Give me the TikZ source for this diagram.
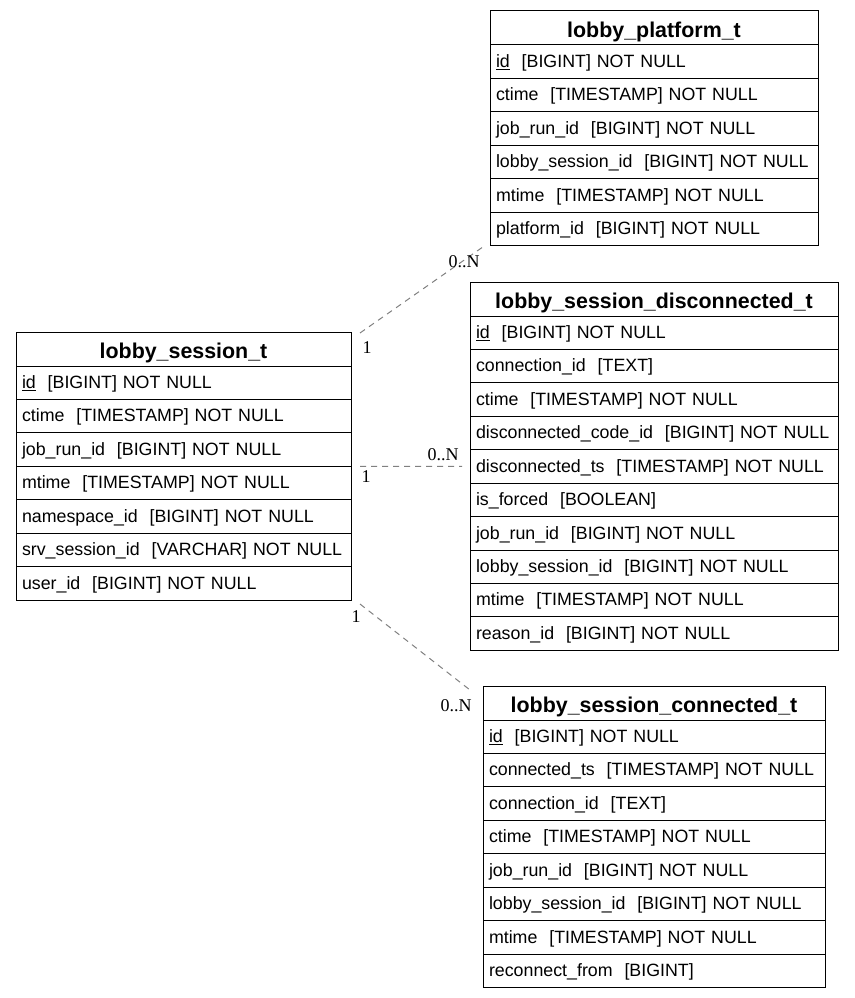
\documentclass[tikz,border=0pt]{standalone}
\usepackage{fontspec}
\setmainfont{Liberation Sans}
\newfontfamily\lblfamily{Liberation Serif}
\newcommand{\hdrfont}{\fontsize{21.4}{24}\selectfont\bfseries}
\newcommand{\rowfont}{\fontsize{17.8}{20}\selectfont}
\newcommand{\lblfont}{\lblfamily\fontsize{18}{20}\selectfont}
\newcommand{\twosp}{\ \ }
\begin{document}
\begin{tikzpicture}[x=1pt,y=-1pt,
  hdr/.style={draw, line width=1pt, outer sep=0pt, anchor=north west, minimum height=34pt, inner sep=0pt, text height=19pt, text depth=0pt, font=\hdrfont, align=center},
  row/.style={draw, line width=1pt, outer sep=0pt, anchor=north west, minimum height=33.43pt, inner sep=0pt, inner xsep=6pt, text height=14pt, text depth=2.6pt, font=\rowfont, align=left},
  rel/.style={draw=gray, line width=1pt, dash pattern=on 6pt off 5pt},
  lbl/.style={font=\lblfont, inner sep=0pt}]
\useasboundingbox (0,0) rectangle (854,998);

% lobby_platform_t
\node[hdr, minimum width=328pt] (p0) at (490,11) {lobby\_platform\_t};
\tikzset{rp/.style={row, text width=316pt}}
\node[rp] (p1) at (p0.south west) {\underline{id}\twosp[BIGINT] NOT NULL};
\node[rp] (p2) at (p1.south west) {ctime\twosp[TIMESTAMP] NOT NULL};
\node[rp] (p3) at (p2.south west) {job\_run\_id\twosp[BIGINT] NOT NULL};
\node[rp] (p4) at (p3.south west) {lobby\_session\_id\twosp[BIGINT] NOT NULL};
\node[rp] (p5) at (p4.south west) {mtime\twosp[TIMESTAMP] NOT NULL};
\node[rp] (p6) at (p5.south west) {platform\_id\twosp[BIGINT] NOT NULL};

% lobby_session_disconnected_t
\node[hdr, minimum width=368pt] (d0) at (470,282) {lobby\_session\_disconnected\_t};
\tikzset{rd/.style={row, text width=356pt}}
\node[rd] (d1) at (d0.south west) {\underline{id}\twosp[BIGINT] NOT NULL};
\node[rd] (d2) at (d1.south west) {connection\_id\twosp[TEXT]};
\node[rd] (d3) at (d2.south west) {ctime\twosp[TIMESTAMP] NOT NULL};
\node[rd] (d4) at (d3.south west) {disconnected\_code\_id\twosp[BIGINT] NOT NULL};
\node[rd] (d5) at (d4.south west) {disconnected\_ts\twosp[TIMESTAMP] NOT NULL};
\node[rd] (d6) at (d5.south west) {is\_forced\twosp[BOOLEAN]};
\node[rd] (d7) at (d6.south west) {job\_run\_id\twosp[BIGINT] NOT NULL};
\node[rd] (d8) at (d7.south west) {lobby\_session\_id\twosp[BIGINT] NOT NULL};
\node[rd] (d9) at (d8.south west) {mtime\twosp[TIMESTAMP] NOT NULL};
\node[rd] (d10) at (d9.south west) {reason\_id\twosp[BIGINT] NOT NULL};

% lobby_session_t
\node[hdr, minimum width=335pt] (s0) at (16,332) {lobby\_session\_t};
\tikzset{rs/.style={row, text width=323pt}}
\node[rs] (s1) at (s0.south west) {\underline{id}\twosp[BIGINT] NOT NULL};
\node[rs] (s2) at (s1.south west) {ctime\twosp[TIMESTAMP] NOT NULL};
\node[rs] (s3) at (s2.south west) {job\_run\_id\twosp[BIGINT] NOT NULL};
\node[rs] (s4) at (s3.south west) {mtime\twosp[TIMESTAMP] NOT NULL};
\node[rs] (s5) at (s4.south west) {namespace\_id\twosp[BIGINT] NOT NULL};
\node[rs] (s6) at (s5.south west) {srv\_session\_id\twosp[VARCHAR] NOT NULL};
\node[rs] (s7) at (s6.south west) {user\_id\twosp[BIGINT] NOT NULL};

% lobby_session_connected_t
\node[hdr, minimum width=342pt] (c0) at (483,686) {lobby\_session\_connected\_t};
\tikzset{rc/.style={row, text width=330pt}}
\node[rc] (c1) at (c0.south west) {\underline{id}\twosp[BIGINT] NOT NULL};
\node[rc] (c2) at (c1.south west) {connected\_ts\twosp[TIMESTAMP] NOT NULL};
\node[rc] (c3) at (c2.south west) {connection\_id\twosp[TEXT]};
\node[rc] (c4) at (c3.south west) {ctime\twosp[TIMESTAMP] NOT NULL};
\node[rc] (c5) at (c4.south west) {job\_run\_id\twosp[BIGINT] NOT NULL};
\node[rc] (c6) at (c5.south west) {lobby\_session\_id\twosp[BIGINT] NOT NULL};
\node[rc] (c7) at (c6.south west) {mtime\twosp[TIMESTAMP] NOT NULL};
\node[rc] (c8) at (c7.south west) {reconnect\_from\twosp[BIGINT]};

% relations
\coordinate (a1) at ([shift={(9,1)}]s0.north east);
\coordinate (b1) at ([shift={(-8,2)}]p6.south west);
\draw[rel] (a1) -- (b1);
\node[lbl] (l1a) at (367,348) {1};
\node[lbl] (l1b) at (464,262) {0..N};

\coordinate (a2) at ([xshift=9]s3.south east);
\coordinate (b2) at ([xshift=-8]d5.west);
\draw[rel] (a2) -- (b2);
\node[lbl] (l2a) at (366,477) {1};
\node[lbl] (l2b) at (443,455) {0..N};

\coordinate (a3) at ([shift={(9,4)}]s7.south east);
\coordinate (b3) at ([shift={(-13,4)}]c0.north west);
\draw[rel] (a3) -- (b3);
\node[lbl] (l3a) at (356,617) {1};
\node[lbl] (l3b) at (456,706) {0..N};
\end{tikzpicture}
\end{document}
